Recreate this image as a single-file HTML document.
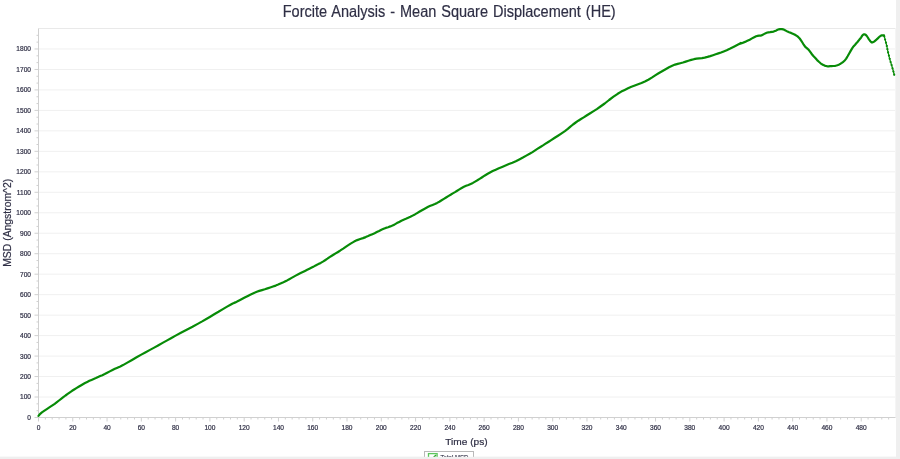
<!DOCTYPE html>
<html><head><meta charset="utf-8"><title>Forcite Analysis - Mean Square Displacement (HE)</title>
<style>
html,body{margin:0;padding:0;background:#fff;}
body{width:900px;height:459px;overflow:hidden;font-family:"Liberation Sans",sans-serif;}
svg{display:block;}
svg text{font-family:"Liberation Sans",sans-serif;fill:#2f2f45;stroke:#2f2f45;stroke-width:0.2px;}
.tk{font-size:6.6px;}
</style></head><body>
<svg width="900" height="459" viewBox="0 0 900 459">
<rect x="0" y="0" width="900" height="459" fill="#ffffff"/>
<rect x="896" y="0" width="4" height="459" fill="#efefef"/>
<rect x="0" y="456.8" width="900" height="3" fill="#efefef"/>

<text x="449.2" y="17.3" text-anchor="middle" font-size="16" word-spacing="1" textLength="333" lengthAdjust="spacingAndGlyphs">Forcite Analysis - Mean Square Displacement (HE)</text>
<line x1="38.5" x2="895.5" y1="397.03" y2="397.03" stroke="#f0f0f0" stroke-width="1"/>
<line x1="38.5" x2="895.5" y1="376.55" y2="376.55" stroke="#f0f0f0" stroke-width="1"/>
<line x1="38.5" x2="895.5" y1="356.08" y2="356.08" stroke="#f0f0f0" stroke-width="1"/>
<line x1="38.5" x2="895.5" y1="335.61" y2="335.61" stroke="#f0f0f0" stroke-width="1"/>
<line x1="38.5" x2="895.5" y1="315.13" y2="315.13" stroke="#f0f0f0" stroke-width="1"/>
<line x1="38.5" x2="895.5" y1="294.66" y2="294.66" stroke="#f0f0f0" stroke-width="1"/>
<line x1="38.5" x2="895.5" y1="274.18" y2="274.18" stroke="#f0f0f0" stroke-width="1"/>
<line x1="38.5" x2="895.5" y1="253.71" y2="253.71" stroke="#f0f0f0" stroke-width="1"/>
<line x1="38.5" x2="895.5" y1="233.24" y2="233.24" stroke="#f0f0f0" stroke-width="1"/>
<line x1="38.5" x2="895.5" y1="212.76" y2="212.76" stroke="#f0f0f0" stroke-width="1"/>
<line x1="38.5" x2="895.5" y1="192.29" y2="192.29" stroke="#f0f0f0" stroke-width="1"/>
<line x1="38.5" x2="895.5" y1="171.82" y2="171.82" stroke="#f0f0f0" stroke-width="1"/>
<line x1="38.5" x2="895.5" y1="151.34" y2="151.34" stroke="#f0f0f0" stroke-width="1"/>
<line x1="38.5" x2="895.5" y1="130.87" y2="130.87" stroke="#f0f0f0" stroke-width="1"/>
<line x1="38.5" x2="895.5" y1="110.39" y2="110.39" stroke="#f0f0f0" stroke-width="1"/>
<line x1="38.5" x2="895.5" y1="89.92" y2="89.92" stroke="#f0f0f0" stroke-width="1"/>
<line x1="38.5" x2="895.5" y1="69.45" y2="69.45" stroke="#f0f0f0" stroke-width="1"/>
<line x1="38.5" x2="895.5" y1="48.97" y2="48.97" stroke="#f0f0f0" stroke-width="1"/>
<path d="M38.5,28.5 H895.5" fill="none" stroke="#e9e9e9" stroke-width="1"/>
<path d="M895.5,28.5 V417.5" fill="none" stroke="#f5f5f5" stroke-width="1"/>
<path d="M38.5,28.5 V421.5" fill="none" stroke="#d0d0d0" stroke-width="1"/>
<path d="M34.5,417.5 H895.5" fill="none" stroke="#d0d0d0" stroke-width="1"/>
<path d="M38.5,410.68 h-2 M38.5,403.85 h-2 M38.5,397.03 h-4 M38.5,390.20 h-2 M38.5,383.38 h-2 M38.5,376.55 h-4 M38.5,369.73 h-2 M38.5,362.90 h-2 M38.5,356.08 h-4 M38.5,349.25 h-2 M38.5,342.43 h-2 M38.5,335.61 h-4 M38.5,328.78 h-2 M38.5,321.96 h-2 M38.5,315.13 h-4 M38.5,308.31 h-2 M38.5,301.48 h-2 M38.5,294.66 h-4 M38.5,287.83 h-2 M38.5,281.01 h-2 M38.5,274.18 h-4 M38.5,267.36 h-2 M38.5,260.54 h-2 M38.5,253.71 h-4 M38.5,246.89 h-2 M38.5,240.06 h-2 M38.5,233.24 h-4 M38.5,226.41 h-2 M38.5,219.59 h-2 M38.5,212.76 h-4 M38.5,205.94 h-2 M38.5,199.11 h-2 M38.5,192.29 h-4 M38.5,185.46 h-2 M38.5,178.64 h-2 M38.5,171.82 h-4 M38.5,164.99 h-2 M38.5,158.17 h-2 M38.5,151.34 h-4 M38.5,144.52 h-2 M38.5,137.69 h-2 M38.5,130.87 h-4 M38.5,124.04 h-2 M38.5,117.22 h-2 M38.5,110.39 h-4 M38.5,103.57 h-2 M38.5,96.75 h-2 M38.5,89.92 h-4 M38.5,83.10 h-2 M38.5,76.27 h-2 M38.5,69.45 h-4 M38.5,62.62 h-2 M38.5,55.80 h-2 M38.5,48.97 h-4 M38.5,42.15 h-2 M38.5,35.32 h-2 M45.36,417.5 v2 M52.21,417.5 v2 M59.07,417.5 v2 M65.92,417.5 v2 M72.78,417.5 v4 M79.64,417.5 v2 M86.49,417.5 v2 M93.35,417.5 v2 M100.20,417.5 v2 M107.06,417.5 v4 M113.92,417.5 v2 M120.77,417.5 v2 M127.63,417.5 v2 M134.48,417.5 v2 M141.34,417.5 v4 M148.20,417.5 v2 M155.05,417.5 v2 M161.91,417.5 v2 M168.76,417.5 v2 M175.62,417.5 v4 M182.48,417.5 v2 M189.33,417.5 v2 M196.19,417.5 v2 M203.04,417.5 v2 M209.90,417.5 v4 M216.76,417.5 v2 M223.61,417.5 v2 M230.47,417.5 v2 M237.32,417.5 v2 M244.18,417.5 v4 M251.04,417.5 v2 M257.89,417.5 v2 M264.75,417.5 v2 M271.60,417.5 v2 M278.46,417.5 v4 M285.32,417.5 v2 M292.17,417.5 v2 M299.03,417.5 v2 M305.88,417.5 v2 M312.74,417.5 v4 M319.60,417.5 v2 M326.45,417.5 v2 M333.31,417.5 v2 M340.16,417.5 v2 M347.02,417.5 v4 M353.88,417.5 v2 M360.73,417.5 v2 M367.59,417.5 v2 M374.44,417.5 v2 M381.30,417.5 v4 M388.16,417.5 v2 M395.01,417.5 v2 M401.87,417.5 v2 M408.72,417.5 v2 M415.58,417.5 v4 M422.44,417.5 v2 M429.29,417.5 v2 M436.15,417.5 v2 M443.00,417.5 v2 M449.86,417.5 v4 M456.72,417.5 v2 M463.57,417.5 v2 M470.43,417.5 v2 M477.28,417.5 v2 M484.14,417.5 v4 M491.00,417.5 v2 M497.85,417.5 v2 M504.71,417.5 v2 M511.56,417.5 v2 M518.42,417.5 v4 M525.28,417.5 v2 M532.13,417.5 v2 M538.99,417.5 v2 M545.84,417.5 v2 M552.70,417.5 v4 M559.56,417.5 v2 M566.41,417.5 v2 M573.27,417.5 v2 M580.12,417.5 v2 M586.98,417.5 v4 M593.84,417.5 v2 M600.69,417.5 v2 M607.55,417.5 v2 M614.40,417.5 v2 M621.26,417.5 v4 M628.12,417.5 v2 M634.97,417.5 v2 M641.83,417.5 v2 M648.68,417.5 v2 M655.54,417.5 v4 M662.40,417.5 v2 M669.25,417.5 v2 M676.11,417.5 v2 M682.96,417.5 v2 M689.82,417.5 v4 M696.68,417.5 v2 M703.53,417.5 v2 M710.39,417.5 v2 M717.24,417.5 v2 M724.10,417.5 v4 M730.96,417.5 v2 M737.81,417.5 v2 M744.67,417.5 v2 M751.52,417.5 v2 M758.38,417.5 v4 M765.24,417.5 v2 M772.09,417.5 v2 M778.95,417.5 v2 M785.80,417.5 v2 M792.66,417.5 v4 M799.52,417.5 v2 M806.37,417.5 v2 M813.23,417.5 v2 M820.08,417.5 v2 M826.94,417.5 v4 M833.80,417.5 v2 M840.65,417.5 v2 M847.51,417.5 v2 M854.36,417.5 v2 M861.22,417.5 v4 M868.08,417.5 v2 M874.93,417.5 v2 M881.79,417.5 v2 M888.64,417.5 v2" fill="none" stroke="#d0d0d0" stroke-width="1"/>
<text class="tk" x="31" y="419.9" text-anchor="end">0</text>
<text class="tk" x="31" y="399.4" text-anchor="end">100</text>
<text class="tk" x="31" y="379.0" text-anchor="end">200</text>
<text class="tk" x="31" y="358.5" text-anchor="end">300</text>
<text class="tk" x="31" y="338.0" text-anchor="end">400</text>
<text class="tk" x="31" y="317.5" text-anchor="end">500</text>
<text class="tk" x="31" y="297.1" text-anchor="end">600</text>
<text class="tk" x="31" y="276.6" text-anchor="end">700</text>
<text class="tk" x="31" y="256.1" text-anchor="end">800</text>
<text class="tk" x="31" y="235.6" text-anchor="end">900</text>
<text class="tk" x="31" y="215.2" text-anchor="end">1000</text>
<text class="tk" x="31" y="194.7" text-anchor="end">1100</text>
<text class="tk" x="31" y="174.2" text-anchor="end">1200</text>
<text class="tk" x="31" y="153.7" text-anchor="end">1300</text>
<text class="tk" x="31" y="133.3" text-anchor="end">1400</text>
<text class="tk" x="31" y="112.8" text-anchor="end">1500</text>
<text class="tk" x="31" y="92.3" text-anchor="end">1600</text>
<text class="tk" x="31" y="71.8" text-anchor="end">1700</text>
<text class="tk" x="31" y="51.4" text-anchor="end">1800</text>
<text class="tk" x="38.5" y="430.3" text-anchor="middle">0</text>
<text class="tk" x="72.8" y="430.3" text-anchor="middle">20</text>
<text class="tk" x="107.1" y="430.3" text-anchor="middle">40</text>
<text class="tk" x="141.3" y="430.3" text-anchor="middle">60</text>
<text class="tk" x="175.6" y="430.3" text-anchor="middle">80</text>
<text class="tk" x="209.9" y="430.3" text-anchor="middle">100</text>
<text class="tk" x="244.2" y="430.3" text-anchor="middle">120</text>
<text class="tk" x="278.5" y="430.3" text-anchor="middle">140</text>
<text class="tk" x="312.7" y="430.3" text-anchor="middle">160</text>
<text class="tk" x="347.0" y="430.3" text-anchor="middle">180</text>
<text class="tk" x="381.3" y="430.3" text-anchor="middle">200</text>
<text class="tk" x="415.6" y="430.3" text-anchor="middle">220</text>
<text class="tk" x="449.9" y="430.3" text-anchor="middle">240</text>
<text class="tk" x="484.1" y="430.3" text-anchor="middle">260</text>
<text class="tk" x="518.4" y="430.3" text-anchor="middle">280</text>
<text class="tk" x="552.7" y="430.3" text-anchor="middle">300</text>
<text class="tk" x="587.0" y="430.3" text-anchor="middle">320</text>
<text class="tk" x="621.3" y="430.3" text-anchor="middle">340</text>
<text class="tk" x="655.5" y="430.3" text-anchor="middle">360</text>
<text class="tk" x="689.8" y="430.3" text-anchor="middle">380</text>
<text class="tk" x="724.1" y="430.3" text-anchor="middle">400</text>
<text class="tk" x="758.4" y="430.3" text-anchor="middle">420</text>
<text class="tk" x="792.7" y="430.3" text-anchor="middle">440</text>
<text class="tk" x="826.9" y="430.3" text-anchor="middle">460</text>
<text class="tk" x="861.2" y="430.3" text-anchor="middle">480</text>
<text x="466.4" y="444.5" text-anchor="middle" font-size="9.4" textLength="42.4" lengthAdjust="spacingAndGlyphs">Time (ps)</text>
<text transform="translate(10.8,222.8) rotate(-90)" text-anchor="middle" font-size="10.4" textLength="88" lengthAdjust="spacingAndGlyphs">MSD (Angstrom^2)</text>
<path d="M38.5,415.9 L39.0,415.3 L39.6,414.6 L40.5,413.6 L41.9,412.4 L44.1,410.9 L46.8,409.1 L49.7,407.2 L52.4,405.4 L54.7,403.8 L56.9,402.1 L59.0,400.5 L61.1,398.9 L63.3,397.2 L65.5,395.5 L67.7,393.9 L69.9,392.3 L72.1,390.8 L74.2,389.5 L76.4,388.1 L78.6,386.8 L80.8,385.5 L82.9,384.2 L85.0,383.0 L87.2,381.9 L89.4,380.8 L91.5,379.9 L93.7,378.9 L95.9,378.0 L98.1,377.0 L100.2,376.1 L102.4,375.2 L104.7,374.1 L107.2,372.8 L109.8,371.4 L112.5,370.0 L114.9,368.8 L116.9,367.9 L118.5,367.2 L120.3,366.4 L123.0,365.1 L126.9,362.9 L131.6,360.2 L136.6,357.3 L141.3,354.6 L145.7,352.2 L150.0,349.9 L154.2,347.6 L158.5,345.2 L162.6,342.9 L166.7,340.6 L171.0,338.2 L175.6,335.6 L180.9,332.8 L186.7,329.8 L192.5,326.8 L197.7,323.9 L202.2,321.4 L206.3,319.0 L210.2,316.7 L214.2,314.3 L218.5,311.8 L222.9,309.1 L227.1,306.6 L230.5,304.7 L232.7,303.5 L234.1,302.9 L235.4,302.4 L237.1,301.6 L239.6,300.3 L242.4,298.8 L245.2,297.3 L247.9,295.9 L250.2,294.7 L252.4,293.7 L254.5,292.7 L256.8,291.8 L259.3,290.9 L262.0,290.1 L264.8,289.3 L267.5,288.4 L270.2,287.5 L273.0,286.5 L275.7,285.6 L278.2,284.6 L280.5,283.6 L282.8,282.6 L284.9,281.5 L287.1,280.4 L289.3,279.2 L291.6,277.9 L293.9,276.6 L296.1,275.4 L298.3,274.2 L300.6,273.1 L302.8,272.0 L305.0,270.9 L307.2,269.8 L309.4,268.7 L311.7,267.5 L313.9,266.4 L316.1,265.2 L318.4,264.1 L320.7,262.9 L322.9,261.6 L325.1,260.2 L327.4,258.7 L329.6,257.1 L331.8,255.7 L333.8,254.5 L335.6,253.4 L337.6,252.2 L340.0,250.7 L343.2,248.6 L346.8,246.1 L350.6,243.6 L354.1,241.6 L357.2,240.1 L360.2,239.0 L363.0,238.1 L365.7,237.1 L368.1,236.1 L370.3,235.1 L372.4,234.2 L374.6,233.2 L376.8,232.1 L379.1,231.0 L381.4,229.8 L383.6,228.8 L385.8,227.9 L388.1,227.2 L390.3,226.4 L392.5,225.5 L394.7,224.4 L396.9,223.1 L399.2,221.9 L401.4,220.7 L403.6,219.7 L405.9,218.8 L408.2,217.8 L410.4,216.8 L412.6,215.6 L414.9,214.4 L417.1,213.1 L419.3,211.8 L421.5,210.5 L423.8,209.2 L426.0,208.0 L428.2,206.8 L430.4,205.8 L432.6,204.9 L434.9,204.0 L437.1,202.9 L439.3,201.7 L441.6,200.3 L443.9,198.9 L446.1,197.5 L448.3,196.1 L450.6,194.8 L452.8,193.4 L455.0,192.1 L457.2,190.7 L459.4,189.4 L461.7,188.0 L463.9,186.8 L466.1,185.8 L468.4,184.9 L470.7,183.9 L472.9,182.9 L475.1,181.6 L477.4,180.3 L479.6,178.9 L481.8,177.5 L483.8,176.2 L485.7,175.0 L487.7,173.8 L490.0,172.5 L492.7,171.1 L495.7,169.7 L498.9,168.3 L502.1,166.9 L505.5,165.5 L508.9,164.1 L512.4,162.7 L515.8,161.2 L519.3,159.4 L522.9,157.5 L526.3,155.6 L529.6,153.8 L532.5,152.1 L535.1,150.4 L537.7,148.7 L540.4,147.0 L543.0,145.4 L545.6,143.7 L548.3,142.0 L551.2,140.1 L554.4,138.0 L558.0,135.7 L561.6,133.3 L564.9,131.1 L567.8,128.9 L570.4,126.6 L573.0,124.5 L575.7,122.5 L578.3,120.7 L581.0,119.0 L583.7,117.4 L586.6,115.5 L589.8,113.5 L593.2,111.4 L596.8,109.1 L600.5,106.5 L604.7,103.5 L609.1,100.0 L613.5,96.7 L617.7,93.8 L621.3,91.6 L624.7,89.9 L628.0,88.3 L631.4,86.8 L634.8,85.5 L638.1,84.3 L641.5,83.0 L644.9,81.5 L648.3,79.7 L651.8,77.6 L655.2,75.4 L658.6,73.3 L662.1,71.3 L665.6,69.2 L669.0,67.3 L672.2,65.8 L675.1,64.6 L677.7,63.9 L680.3,63.2 L683.0,62.5 L685.7,61.6 L688.4,60.7 L691.2,59.9 L693.9,59.2 L696.6,58.7 L699.3,58.4 L702.0,58.1 L704.7,57.6 L707.5,56.9 L710.2,56.1 L713.0,55.2 L715.7,54.3 L718.4,53.4 L721.0,52.5 L723.7,51.4 L726.7,50.2 L730.3,48.5 L734.4,46.4 L738.1,44.5 L740.6,43.2 L740.9,43.0 L740.0,43.6 L738.8,44.2 L738.7,44.3 L740.1,43.8 L742.4,42.9 L745.0,41.9 L747.4,40.8 L749.7,39.7 L752.0,38.4 L754.2,37.2 L756.1,36.3 L757.7,35.9 L759.0,35.7 L760.2,35.7 L761.4,35.4 L762.7,34.8 L763.9,34.1 L765.2,33.4 L766.6,32.8 L768.3,32.4 L770.1,32.2 L771.9,31.9 L773.6,31.6 L775.0,31.0 L776.4,30.4 L777.6,29.7 L778.8,29.3 L779.9,29.1 L781.0,29.0 L782.0,29.1 L783.1,29.3 L784.1,29.7 L785.1,30.3 L786.2,30.9 L787.5,31.6 L789.1,32.3 L791.0,32.9 L792.8,33.7 L794.5,34.5 L795.9,35.3 L797.2,36.2 L798.4,37.2 L799.7,38.5 L801.0,40.3 L802.4,42.5 L803.7,44.7 L804.9,46.4 L805.9,47.4 L806.6,48.0 L807.4,48.6 L808.4,49.5 L809.5,50.9 L810.8,52.7 L812.1,54.5 L813.6,56.3 L815.3,58.1 L817.1,60.1 L818.9,61.8 L820.6,63.3 L822.1,64.3 L823.4,65.1 L824.6,65.6 L825.8,66.0 L826.9,66.2 L827.8,66.3 L828.8,66.3 L830.0,66.2 L831.5,66.1 L833.2,66.0 L835.0,65.8 L836.6,65.5 L838.0,65.0 L839.3,64.4 L840.6,63.7 L841.8,62.9 L842.9,62.1 L843.9,61.2 L845.0,60.2 L846.2,58.6 L847.6,56.3 L849.2,53.5 L850.8,50.6 L852.3,48.1 L853.7,46.2 L855.1,44.7 L856.3,43.3 L857.5,42.0 L858.5,40.7 L859.4,39.6 L860.3,38.6 L861.0,37.6 L861.6,36.7 L862.1,35.9 L862.6,35.2 L863.1,34.7 L863.7,34.4 L864.4,34.3 L865.1,34.5 L865.9,35.0 L866.8,36.0 L867.8,37.5 L868.8,39.1 L869.7,40.3 L870.4,41.2 L871.0,41.9 L871.6,42.4 L872.3,42.5 L873.3,42.1 L874.4,41.3 L875.6,40.3 L876.7,39.4 L877.8,38.4 L878.9,37.3 L880.0,36.3 L881.0,35.6 L881.9,35.3 L882.8,35.3 L883.5,35.4 L884.0,35.4" fill="none" stroke="#078b07" stroke-width="2.2" stroke-linejoin="round" stroke-linecap="round"/>
<path d="M884.0,35.4 L885.2,39.8 L886.7,45.6 L887.9,51.5 L889.6,58.6 L891.4,64.5 L892.9,69.5 L894.3,75.0" fill="none" stroke="#078b07" stroke-width="1.2" stroke-linejoin="round" stroke-linecap="round"/>
<circle cx="884.3" cy="36.4" r="1.1" fill="#078b07"/>
<circle cx="885.1" cy="39.5" r="1.1" fill="#078b07"/>
<circle cx="886.0" cy="42.7" r="1.1" fill="#078b07"/>
<circle cx="886.8" cy="45.9" r="1.1" fill="#078b07"/>
<circle cx="887.4" cy="49.2" r="1.1" fill="#078b07"/>
<circle cx="888.1" cy="52.4" r="1.1" fill="#078b07"/>
<circle cx="888.9" cy="55.6" r="1.1" fill="#078b07"/>
<circle cx="889.7" cy="58.8" r="1.1" fill="#078b07"/>
<circle cx="890.6" cy="62.0" r="1.1" fill="#078b07"/>
<circle cx="891.6" cy="65.1" r="1.1" fill="#078b07"/>
<circle cx="892.5" cy="68.3" r="1.1" fill="#078b07"/>
<circle cx="893.4" cy="71.5" r="1.1" fill="#078b07"/>
<circle cx="894.2" cy="74.7" r="1.1" fill="#078b07"/>
<rect x="424.5" y="451.5" width="49" height="12" fill="#fff" stroke="#b9b9b9" stroke-width="1"/>
<rect x="428.5" y="453.6" width="8.6" height="8" fill="#fff" stroke="#5cc65c" stroke-width="1.3"/>
<path d="M430,461 L436,455" stroke="#2da82d" stroke-width="1.4" fill="none"/>
<text class="tk" x="440.5" y="459.8" textLength="28" lengthAdjust="spacingAndGlyphs">Total MSD</text>
<rect x="0" y="456.8" width="900" height="3" fill="#efefef"/>
</svg></body></html>
